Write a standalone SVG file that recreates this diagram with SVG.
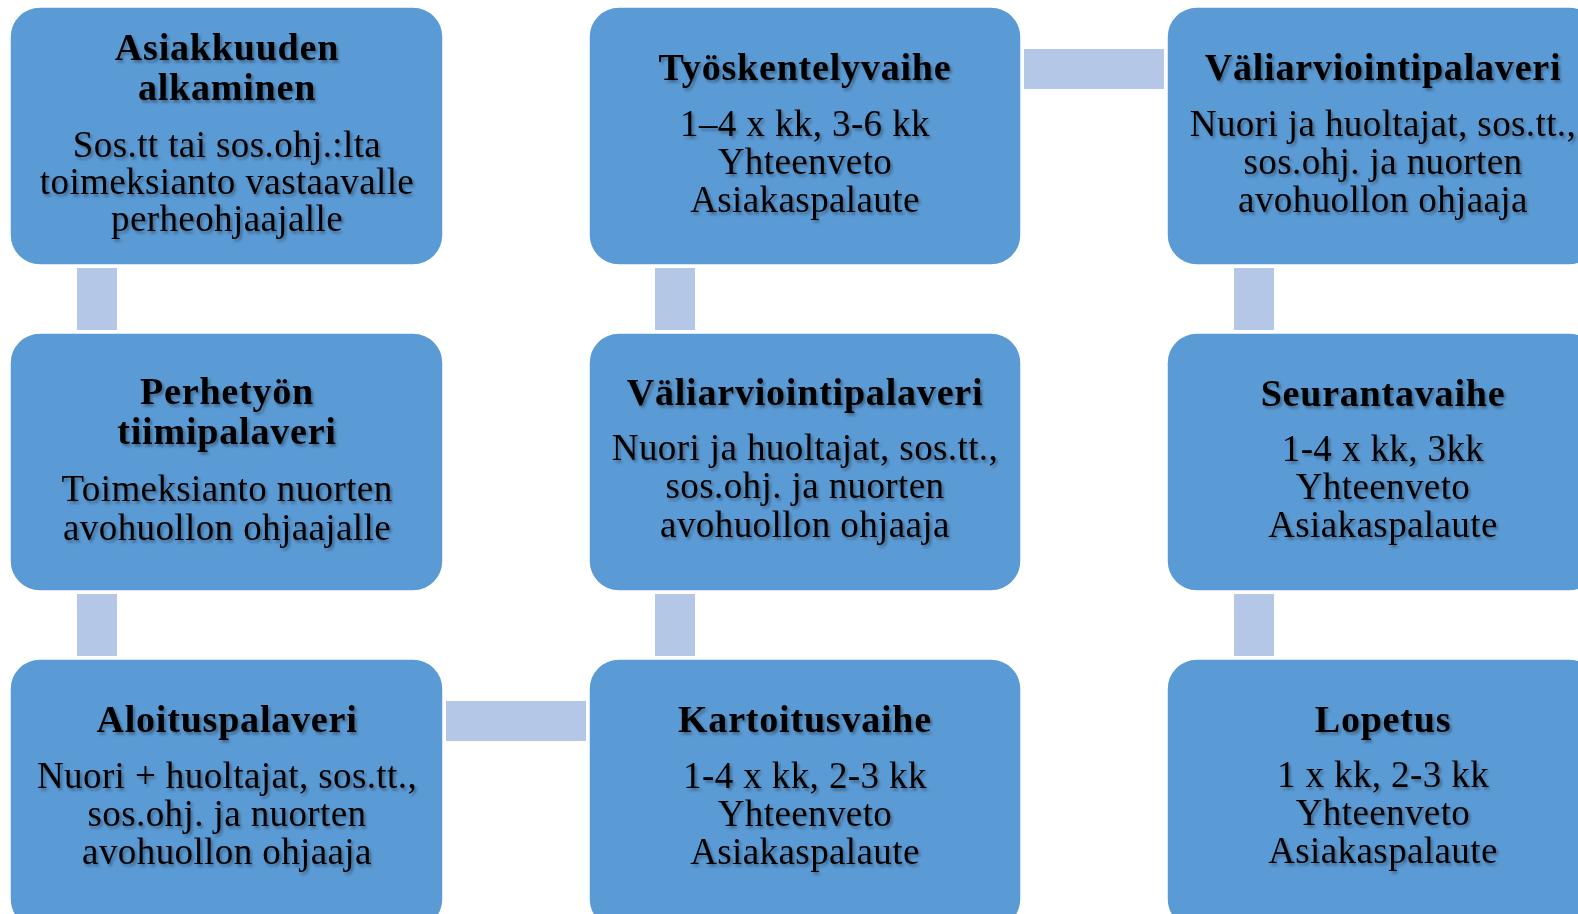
<svg xmlns="http://www.w3.org/2000/svg" width="1578" height="914" viewBox="0 0 1578 914">
<defs>
<filter id="ts" x="-10%" y="-30%" width="120%" height="160%">
<feDropShadow dx="2" dy="2.5" stdDeviation="1.5" flood-color="#000" flood-opacity="0.35"/>
</filter>
</defs>
<style>
.box{fill:#5B9BD5;stroke:#ffffff;stroke-width:1.5}
.con{fill:#B4C7E7}
text{font-family:"Liberation Serif","Times New Roman",serif;fill:#000;text-anchor:middle}
.t{font-size:38px;font-weight:bold;letter-spacing:0.8px}
.b{font-size:37px;letter-spacing:0.4px}
.tx{filter:url(#ts)}
</style>
<rect width="1578" height="914" fill="#ffffff"/>
<g id="connectors">
<rect class="con" x="77" y="268" width="40" height="62"/>
<rect class="con" x="77" y="594" width="40" height="62"/>
<rect class="con" x="655" y="268" width="40" height="62"/>
<rect class="con" x="655" y="594" width="40" height="62"/>
<rect class="con" x="1234" y="268" width="40" height="62"/>
<rect class="con" x="1234" y="594" width="40" height="62"/>
<rect class="con" x="1024" y="49" width="140" height="40"/>
<rect class="con" x="446" y="701" width="140" height="40"/>
</g>
<g id="n1">
<rect class="box" x="10" y="7" width="433" height="258" rx="30"/>
<g class="tx">
<text class="t" x="227" y="60">Asiakkuuden</text>
<text class="t" x="227" y="100">alkaminen</text>
<text class="b" x="227" y="157">Sos.tt tai sos.ohj.:lta</text>
<text class="b" x="227" y="194">toimeksianto vastaavalle</text>
<text class="b" x="227" y="231">perheohjaajalle</text>
</g>
</g>
<g id="n2">
<rect class="box" x="10" y="333" width="433" height="258" rx="30"/>
<g class="tx">
<text class="t" x="227" y="404">Perhetyön</text>
<text class="t" x="227" y="444">tiimipalaveri</text>
<text class="b" x="227" y="501">Toimeksianto nuorten</text>
<text class="b" x="227" y="540">avohuollon ohjaajalle</text>
</g>
</g>
<g id="n3">
<rect class="box" x="10" y="659" width="433" height="270" rx="30"/>
<g class="tx">
<text class="t" x="227" y="732">Aloituspalaveri</text>
<text class="b" x="227" y="788">Nuori + huoltajat, sos.tt.,</text>
<text class="b" x="227" y="826">sos.ohj. ja nuorten</text>
<text class="b" x="227" y="864">avohuollon ohjaaja</text>
</g>
</g>
<g id="n4">
<rect class="box" x="589" y="659" width="432" height="270" rx="30"/>
<g class="tx">
<text class="t" x="805" y="732">Kartoitusvaihe</text>
<text class="b" x="805" y="788">1-4 x kk, 2-3 kk</text>
<text class="b" x="805" y="826">Yhteenveto</text>
<text class="b" x="805" y="864">Asiakaspalaute</text>
</g>
</g>
<g id="n5">
<rect class="box" x="589" y="333" width="432" height="258" rx="30"/>
<g class="tx">
<text class="t" x="805" y="405">Väliarviointipalaveri</text>
<text class="b" x="805" y="460">Nuori ja huoltajat, sos.tt.,</text>
<text class="b" x="805" y="498">sos.ohj. ja nuorten</text>
<text class="b" x="805" y="537">avohuollon ohjaaja</text>
</g>
</g>
<g id="n6">
<rect class="box" x="589" y="7" width="432" height="258" rx="30"/>
<g class="tx">
<text class="t" x="805" y="80">Työskentelyvaihe</text>
<text class="b" x="805" y="136">1–4 x kk, 3-6 kk</text>
<text class="b" x="805" y="174">Yhteenveto</text>
<text class="b" x="805" y="212">Asiakaspalaute</text>
</g>
</g>
<g id="n7">
<rect class="box" x="1167" y="7" width="432" height="258" rx="30"/>
<g class="tx">
<text class="t" x="1383" y="80">Väliarviointipalaveri</text>
<text class="b" x="1383" y="136">Nuori ja huoltajat, sos.tt.,</text>
<text class="b" x="1383" y="174">sos.ohj. ja nuorten</text>
<text class="b" x="1383" y="212">avohuollon ohjaaja</text>
</g>
</g>
<g id="n8">
<rect class="box" x="1167" y="333" width="432" height="258" rx="30"/>
<g class="tx">
<text class="t" x="1383" y="406">Seurantavaihe</text>
<text class="b" x="1383" y="461">1-4 x kk, 3kk</text>
<text class="b" x="1383" y="499">Yhteenveto</text>
<text class="b" x="1383" y="537">Asiakaspalaute</text>
</g>
</g>
<g id="n9">
<rect class="box" x="1167" y="659" width="432" height="270" rx="30"/>
<g class="tx">
<text class="t" x="1383" y="732">Lopetus</text>
<text class="b" x="1383" y="787">1 x kk, 2-3 kk</text>
<text class="b" x="1383" y="825">Yhteenveto</text>
<text class="b" x="1383" y="863">Asiakaspalaute</text>
</g>
</g>
</svg>
